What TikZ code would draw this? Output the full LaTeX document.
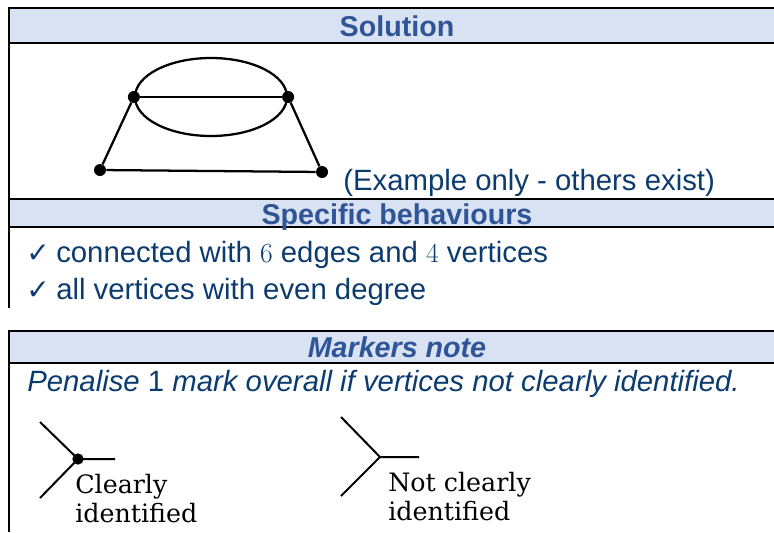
\documentclass[tikz,border=0pt]{standalone}
\usepackage{fontspec}
\setmainfont{Liberation Sans}
\newfontfamily\capfont{DejaVu Serif}
\newfontfamily\tickfont{DejaVu Sans}
\usepackage{xcolor}
\usetikzlibrary{shapes.geometric, positioning}

\definecolor{headfill}{HTML}{D9E2F3}
\definecolor{headtext}{HTML}{2F5597}
\definecolor{bodytext}{HTML}{0B3B6F}

\newcommand{\tickmark}{\makebox[22.5pt][l]{\tickfont\fontsize{21pt}{21pt}\selectfont ✓}}

\begin{document}
\begin{tikzpicture}[
    x=0.75pt, y=-0.75pt,
    rule/.style={line width=2pt, black},
    side/.style={line width=1.5pt, black},
    head/.style={font=\fontsize{21.5pt}{26pt}\selectfont\bfseries, text=headtext, anchor=base, inner sep=0pt},
    body/.style={font=\fontsize{22pt}{26pt}\selectfont, text=bodytext, anchor=base west, inner sep=0pt},
    caption/.style={font=\capfont\fontsize{19pt}{22pt}\selectfont, anchor=base west, inner sep=0pt},
    vertex/.style={circle, fill=black, inner sep=0pt, minimum size=9pt},
    edge/.style={line width=1.7pt},
    spoke/.style={line width=1.5pt},
]
\useasboundingbox (0,0) rectangle (774,532);

% table frames
\fill[headfill] (9,8) rectangle (774,43);
\fill[headfill] (9,199) rectangle (774,227);
\fill[headfill] (9,331) rectangle (774,363);
\draw[rule] (9,8) -- (774,8);
\draw[rule] (9,43) -- (774,43);
\draw[rule] (9,199) -- (774,199);
\draw[rule] (9,227) -- (774,227);
\draw[side] (9,7) -- (9,308);
\draw[rule] (9,331) -- (774,331);
\draw[rule] (9,363) -- (774,363);
\draw[side] (9,330) -- (9,532);

\node[head] (soltitle) at (397,36) {Solution};
\node[head] (spectitle) at (397,224) {Specific behaviours};
\node[head, font=\fontsize{21.5pt}{26pt}\selectfont\bfseries\itshape] (notetitle) at (397,357) {Markers note};

% example graph
\node[draw, ellipse, edge, minimum width=114pt, minimum height=58.5pt, inner sep=0pt] (oval) at (211,97) {};
\node[vertex] (v1) at (oval.west) {};
\node[vertex] (v2) at (oval.east) {};
\node[vertex] (v3) at (100,170) {};
\node[vertex] (v4) at (322,172) {};
\draw[edge] (v1) -- (v2);
\draw[edge] (v1) -- (v3);
\draw[edge] (v2) -- (v4);
\draw[edge] (v3) -- (v4);

\node[body] (example) at (343,190) {(Example only - others exist)};

\node[body] (tick1) at (26,262) {\tickmark connected with \(6\) edges and \(4\) vertices};
\node[body] (tick2) at (26,299) {\tickmark all vertices with even degree};

\node[body, font=\fontsize{22pt}{26pt}\selectfont\itshape] (penalty) at (27,391) {Penalise {\upshape 1} mark overall if vertices not clearly identified.};

% clearly identified vertex
\node[vertex, minimum size=8.5pt] (good) at (78,459) {};
\coordinate (goodup) at (40,422);
\coordinate (goodright) at (115,459);
\coordinate (gooddown) at (40,498);
\draw[spoke] (goodup) -- (good.center) -- (goodright);
\draw[spoke] (good.center) -- (gooddown);
\node[caption] (goodcap1) at (75,493) {Clearly};
\node[caption] (goodcap2) at (75,522) {identified};

% not clearly identified vertex
\coordinate (bad) at (380,457);
\coordinate (badup) at (341,417);
\coordinate (badright) at (419,457);
\coordinate (baddown) at (341,496);
\draw[spoke] (badup) -- (bad) -- (badright);
\draw[spoke] (bad) -- (baddown);
\node[caption] (badcap1) at (388,491) {Not clearly};
\node[caption] (badcap2) at (388,520) {identified};

\end{tikzpicture}
\end{document}
